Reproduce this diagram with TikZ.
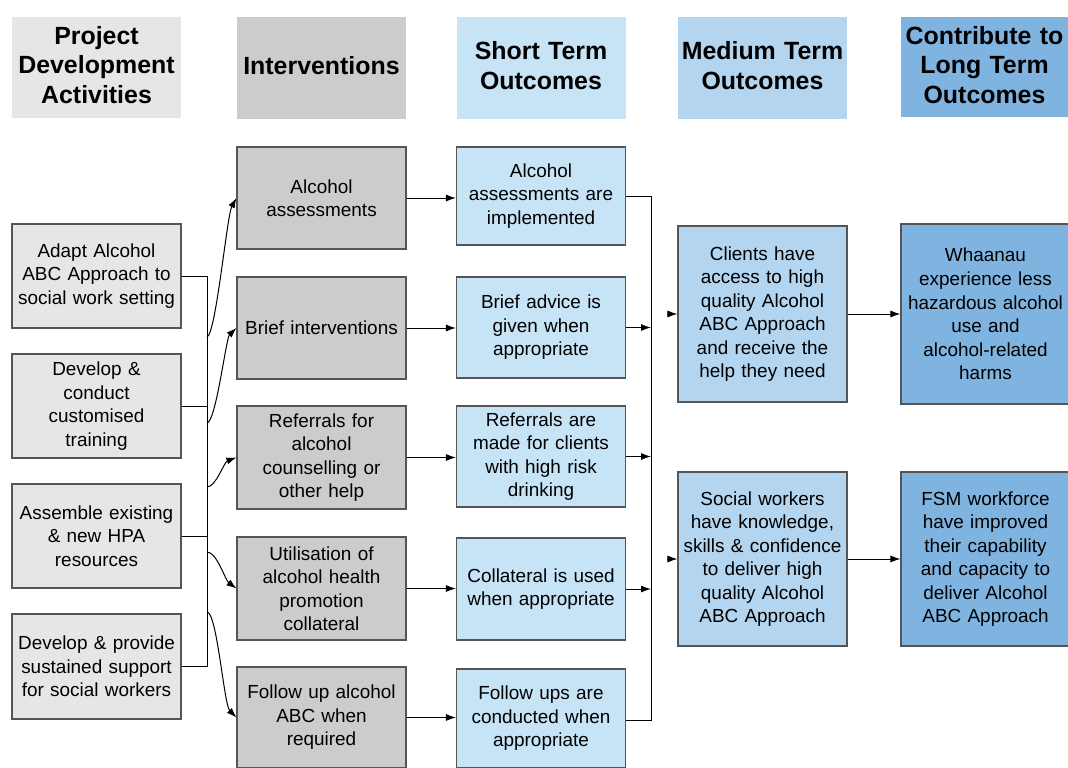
\documentclass[tikz,border=0pt]{standalone}
\usepackage{fontspec}
\setmainfont{Liberation Sans}
\usetikzlibrary{arrows.meta}
\definecolor{gA}{HTML}{E6E6E6}
\definecolor{gB}{HTML}{CCCCCC}
\definecolor{bC}{HTML}{C6E4F6}
\definecolor{bD}{HTML}{B4D5F0}
\definecolor{bE}{HTML}{80B4E0}
\definecolor{edge}{HTML}{555555}
\tikzset{
  headbox/.style={inner sep=0pt, minimum width=169bp},
  headtext/.style={inner xsep=1bp, inner ysep=0pt, text width=165bp, align=center,
    font=\fontsize{25}{30}\selectfont\bfseries},
  box/.style={draw=edge, line width=1.1bp, inner xsep=1.5bp, inner ysep=0pt,
    text width=166bp, align=center, font=\fontsize{19}{23.6}\selectfont, minimum width=169bp},
  arr/.style={line width=1bp, -{Latex[length=10bp,width=7bp]}},
  ln/.style={line width=1bp}
}
\begin{document}
\begin{tikzpicture}[x=1bp,y=-1bp]
\useasboundingbox (0,0) rectangle (1068,768);
% headers
\node[headbox, fill=gA, minimum height=101bp] (H1) at (96.5,67.5) {};
\node[headbox, fill=gB, minimum height=102bp] (H2) at (321.5,68) {};
\node[headbox, fill=bC, minimum height=102bp] (H3) at (541,68) {};
\node[headbox, fill=bD, minimum height=102bp] (H4) at (762.5,68) {};
\node[headbox, fill=bE, minimum height=100bp, minimum width=167bp] (H5) at (984.5,67) {};
\node[headtext] (H1t) at ([yshift=2.5bp]H1.center) {Project\\Development\\Activities};
\node[headtext] (H2t) at ([yshift=2.5bp]H2.center) {Interventions};
\node[headtext] (H3t) at ([yshift=2.5bp]H3.center) {Short Term\\Outcomes};
\node[headtext] (H4t) at ([yshift=2.5bp]H4.center) {Medium Term\\Outcomes};
\node[headtext] (H5t) at ([yshift=2bp]H5.center) {Contribute to\\Long Term\\Outcomes};
% column 1
\node[box, fill=gA, minimum height=104bp] (A1) at (96.5,276) {Adapt Alcohol\\ABC Approach to\\social work setting};
\node[box, fill=gA, minimum height=104bp] (A2) at (96.5,406) {Develop \&\\conduct\\customised\\training};
\node[box, fill=gA, minimum height=104bp] (A3) at (96.5,536) {Assemble existing\\\& new HPA\\resources};
\node[box, fill=gA, minimum height=105bp] (A4) at (96.5,666.5) {Develop \& provide\\sustained support\\for social workers};
% column 2
\node[box, fill=gB, minimum height=102bp] (B1) at (321.5,198) {Alcohol\\assessments};
\node[box, fill=gB, minimum height=102bp] (B2) at (321.5,328) {Brief interventions};
\node[box, fill=gB, minimum height=103bp] (B3) at (321.5,457.5) {Referrals for\\alcohol\\counselling or\\other help};
\node[box, fill=gB, minimum height=103bp] (B4) at (321.5,588.5) {Utilisation of\\alcohol health\\promotion\\collateral};
\node[box, fill=gB, minimum height=101bp] (B5) at (321.5,717.5) {Follow up alcohol\\ABC when\\required};
% column 3
\node[box, fill=bC, minimum height=98bp] (C1) at (541,196) {Alcohol\\assessments are\\implemented};
\node[box, fill=bC, minimum height=101bp] (C2) at (541,327.5) {Brief advice is\\given when\\appropriate};
\node[box, fill=bC, minimum height=101bp] (C3) at (541,456.5) {Referrals are\\made for clients\\with high risk\\drinking};
\node[box, fill=bC, minimum height=102bp] (C4) at (541,589) {Collateral is used\\when appropriate};
\node[box, fill=bC, minimum height=99bp] (C5) at (541,718.5) {Follow ups are\\conducted when\\appropriate};
% column 4
\node[box, fill=bD, minimum height=176bp] (D1) at (762.5,314) {Clients have\\access to high\\quality Alcohol\\ABC Approach\\and receive the\\help they need};
\node[box, fill=bD, minimum height=174bp] (D2) at (762.5,559) {Social workers\\have knowledge,\\skills \& confidence\\to deliver high\\quality Alcohol\\ABC Approach};
% column 5
\node[box, fill=bE, minimum height=180bp] (E1) at (985.5,314) {Whaanau\\experience less\\hazardous alcohol\\use and\\alcohol-related\\harms};
\node[box, fill=bE, minimum height=174bp] (E2) at (985.5,559) {FSM workforce\\have improved\\their capability\\and capacity to\\deliver Alcohol\\ABC Approach};
% left bus
\coordinate (L1) at (207,276);
\coordinate (L4) at (207,666.5);
\draw[ln] (A1.east) -- (L1) -- (L4) -- (A4.east);
\draw[ln] (A2.east) -- (A2.east -| L1);
\draw[ln] (A3.east) -- (A3.east -| L1);
\coordinate (s1) at (207,337);
\coordinate (s2) at (207,423);
\coordinate (s3) at (207,487);
\coordinate (s4) at (207,552);
\coordinate (s5) at (207,612);
\draw[arr] (s1) .. controls (216,334) and (227,215) .. (B1.west);
\draw[arr] (s2) .. controls (216,422) and (226,338) .. (B2.west);
\draw[arr] (s3) .. controls (216,487) and (224,462) .. (B3.west);
\draw[arr] (s4) .. controls (217,552) and (225,580) .. (B4.west);
\draw[arr] (s5) .. controls (217,612) and (224,705) .. (B5.west);
% B to C
\draw[arr] (B1.east) -- (B1.east -| C1.west);
\draw[arr] (B2.east) -- (B2.east -| C2.west);
\draw[arr] (B3.east) -- (B3.east -| C3.west);
\draw[arr] (B4.east) -- (B4.east -| C4.west);
\draw[arr] (B5.east) -- (B5.east -| C5.west);
% right bus
\coordinate (R1) at (651,196);
\coordinate (R5) at (651,720);
\draw[ln] (C1.east) -- (R1) -- (R5) -- (C5.east |- R5);
\draw[arr] (C2.east) -- (C2.east -| R1);
\draw[arr] (C3.east) -- (C3.east -| R1);
\draw[arr] (C4.east) -- (C4.east -| R1);
% to D
\coordinate (d1) at (667,314);
\coordinate (d2) at (667,559);
\draw[arr] (d1) -- (D1.west);
\draw[arr] (d2) -- (D2.west);
% D to E
\draw[arr] (D1.east) -- (E1.west);
\draw[arr] (D2.east) -- (E2.west);
\end{tikzpicture}
\end{document}
